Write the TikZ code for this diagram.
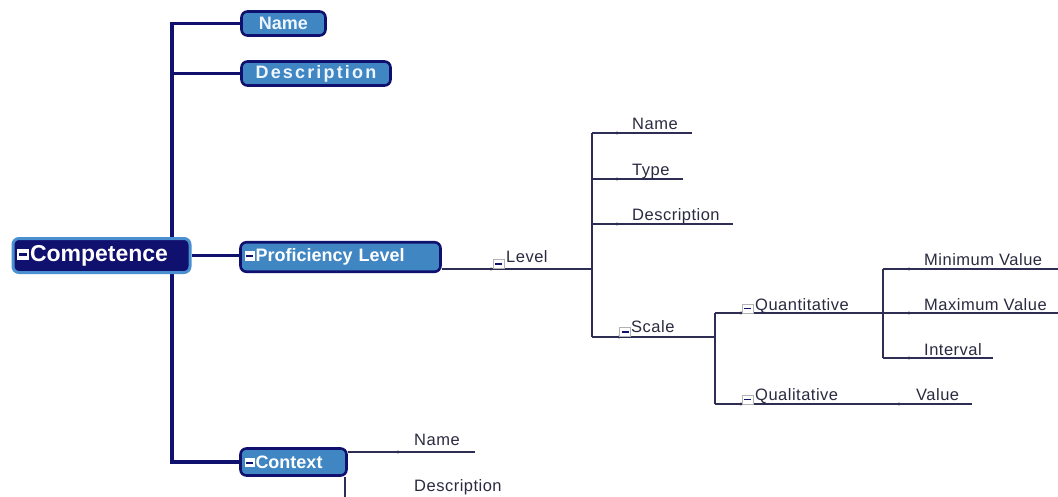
\documentclass[tikz,border=0pt]{standalone}
\usepackage{fontspec}
\setmainfont{Liberation Sans}
\definecolor{navy}{HTML}{10106E}
\definecolor{boxblue}{HTML}{3F86C2}
\definecolor{rimblue}{HTML}{4A8FCF}
\definecolor{linegray}{HTML}{2E2E55}
\definecolor{labelgray}{HTML}{2A2A40}
\definecolor{namewhite}{HTML}{EEF6FF}

% small collapse marker printed in front of a topic title
\newcommand{\topicfold}[2]{\raisebox{1pt}{\setlength{\fboxsep}{0pt}\colorbox{white}{\makebox[#1][c]{\color{navy}\rule[#2]{0.7\dimexpr#1\relax}{2.2pt}}\rule{0pt}{\dimexpr 2\dimexpr#2\relax+2.2pt\relax}}}\hspace{1pt}}

\tikzset{
  topic/.style={draw=navy, line width=2.6pt, fill=boxblue, rounded corners=6pt,
    text=white, font=\bfseries\fontsize{18}{20}\selectfont, inner xsep=4pt,
    inner ysep=0pt, align=left},
  root/.style={topic, draw=rimblue, line width=3pt, fill=navy,
    font=\bfseries\fontsize{23}{25}\selectfont},
  trunk/.style={draw=navy, line width=3.6pt},
  thinline/.style={draw=linegray, line width=1.4pt},
  leaf/.style={anchor=base west, inner sep=0pt, text=labelgray,
    font=\fontsize{16.5}{18}\selectfont\addfontfeature{LetterSpace=3}},
  dot/.style={circle, fill=linegray, inner sep=0pt, minimum size=3.2pt},
  fold/.style={rectangle, draw=gray!60, fill=white, line width=0.8pt,
    minimum width=11pt, minimum height=9pt, inner sep=0pt,
    path picture={\draw[navy, line width=1.3pt]
      ([xshift=2pt]path picture bounding box.west) --
      ([xshift=-2pt]path picture bounding box.east);}},
}

\begin{document}
\begin{tikzpicture}[x=1pt, y=-1pt]
\useasboundingbox (0,0) rectangle (1058,496);

% first-level topics
\node[topic, minimum width=84pt, minimum height=24pt, align=center,
  text=namewhite] (name) at (283.5,23.5) {Name};
\node[topic, minimum width=149pt, minimum height=24pt, align=center,
  text=namewhite] (desc) at (316,73.5)
  {\addfontfeature{LetterSpace=12}Description};
\node[topic, text width=192pt, minimum height=29.5pt] (prof) at (340.5,257)
  {\topicfold{10pt}{3.5pt}Proficiency Level};
\node[topic, text width=98pt, minimum height=27pt] (ctx) at (293.5,462)
  {\topicfold{10pt}{3.5pt}Context};

% trunk joining the central topic to its branches
\coordinate (hub) at (172,256);
\draw[trunk] (name.west) -| (hub) |- (ctx.west);
\draw[trunk] (desc.west) -- (desc.west -| hub);

% central topic
\node[root, text width=169pt, minimum height=34pt] (comp) at (101.5,255.5)
  {\topicfold{12pt}{4.5pt}Competence};
\draw[trunk] (comp.east) -- (comp.east -| prof.west);

% ---- Level subtree
\coordinate (lvl) at (592,269);
\draw[thinline] (prof.east |- lvl) -- (lvl);
\node[dot] (lvdot) at (491,269) {};
\node[fold] (lvfold) at (498.5,264) {};
\node[leaf] (level) at (506,262.7) {Level};

\coordinate (lvtop) at (592,133);
\coordinate (scj) at (715,337);
\draw[thinline] (lvtop) -- (lvl |- scj);

\coordinate (lvnameend) at (692,133);
\draw[thinline] (lvtop) -- (lvnameend);
\node[dot] at (617,133) {};
\node[leaf] (lvname) at (632,129.3) {Name};

\coordinate (typeend) at (683,179);
\draw[thinline] (lvl |- typeend) -- (typeend);
\node[dot] at (617,179) {};
\node[leaf] (type) at (632,175) {Type};

\coordinate (lvdescend) at (733,224);
\draw[thinline] (lvl |- lvdescend) -- (lvdescend);
\node[dot] at (617,224) {};
\node[leaf] (lvdesc) at (632,220.7) {Description};

\draw[thinline] (lvl |- scj) -- (scj);
\node[dot] at (619,337) {};
\node[fold] (scfold) at (625,332) {};
\node[leaf] (scale) at (631,332.7) {Scale};

% ---- Scale subtree
\coordinate (quj) at (883,313);
\coordinate (qlj) at (715,404);
\draw[thinline] (scj |- quj) -- (qlj);

\draw[thinline] (scj |- quj) -- (quj);
\node[dot] at (741,313) {};
\node[fold] (qufold) at (747.5,308.5) {};
\node[leaf] (quant) at (755,310) {Quantitative};

\coordinate (valend) at (972,404);
\draw[thinline] (qlj) -- (valend);
\node[dot] at (741,404) {};
\node[fold] (qlfold) at (747.5,399.5) {};
\node[leaf] (qual) at (755,400) {Qualitative};
\node[dot] at (899,404) {};
\node[leaf] (value) at (916,400) {Value};

% ---- Quantitative subtree
\coordinate (minend) at (1058,269);
\coordinate (maxend) at (1058,313);
\coordinate (intend) at (993,358);
\draw[thinline] (quj |- minend) -- (quj |- intend);
\draw[thinline] (quj |- minend) -- (minend);
\draw[thinline] (quj) -- (maxend);
\draw[thinline] (quj |- intend) -- (intend);
\node[dot] at (909,269) {};
\node[dot] at (909,313) {};
\node[dot] at (909,358) {};
\node[leaf] (minv) at (924,265) {Minimum Value};
\node[leaf] (maxv) at (924,310) {Maximum Value};
\node[leaf] (intv) at (924,355) {Interval};

% ---- Context subtree
\coordinate (ctxnameend) at (475,452);
\draw[thinline] (ctx.east |- ctxnameend) -- (ctxnameend);
\node[dot] at (398,452) {};
\node[leaf] (ctxname) at (414,445) {Name};
\coordinate (ctxdown) at (345,500);
\draw[thinline] (ctx.south -| ctxdown) -- (ctxdown);
\node[leaf] (ctxdesc) at (414,491.7) {Description};
\end{tikzpicture}
\end{document}
